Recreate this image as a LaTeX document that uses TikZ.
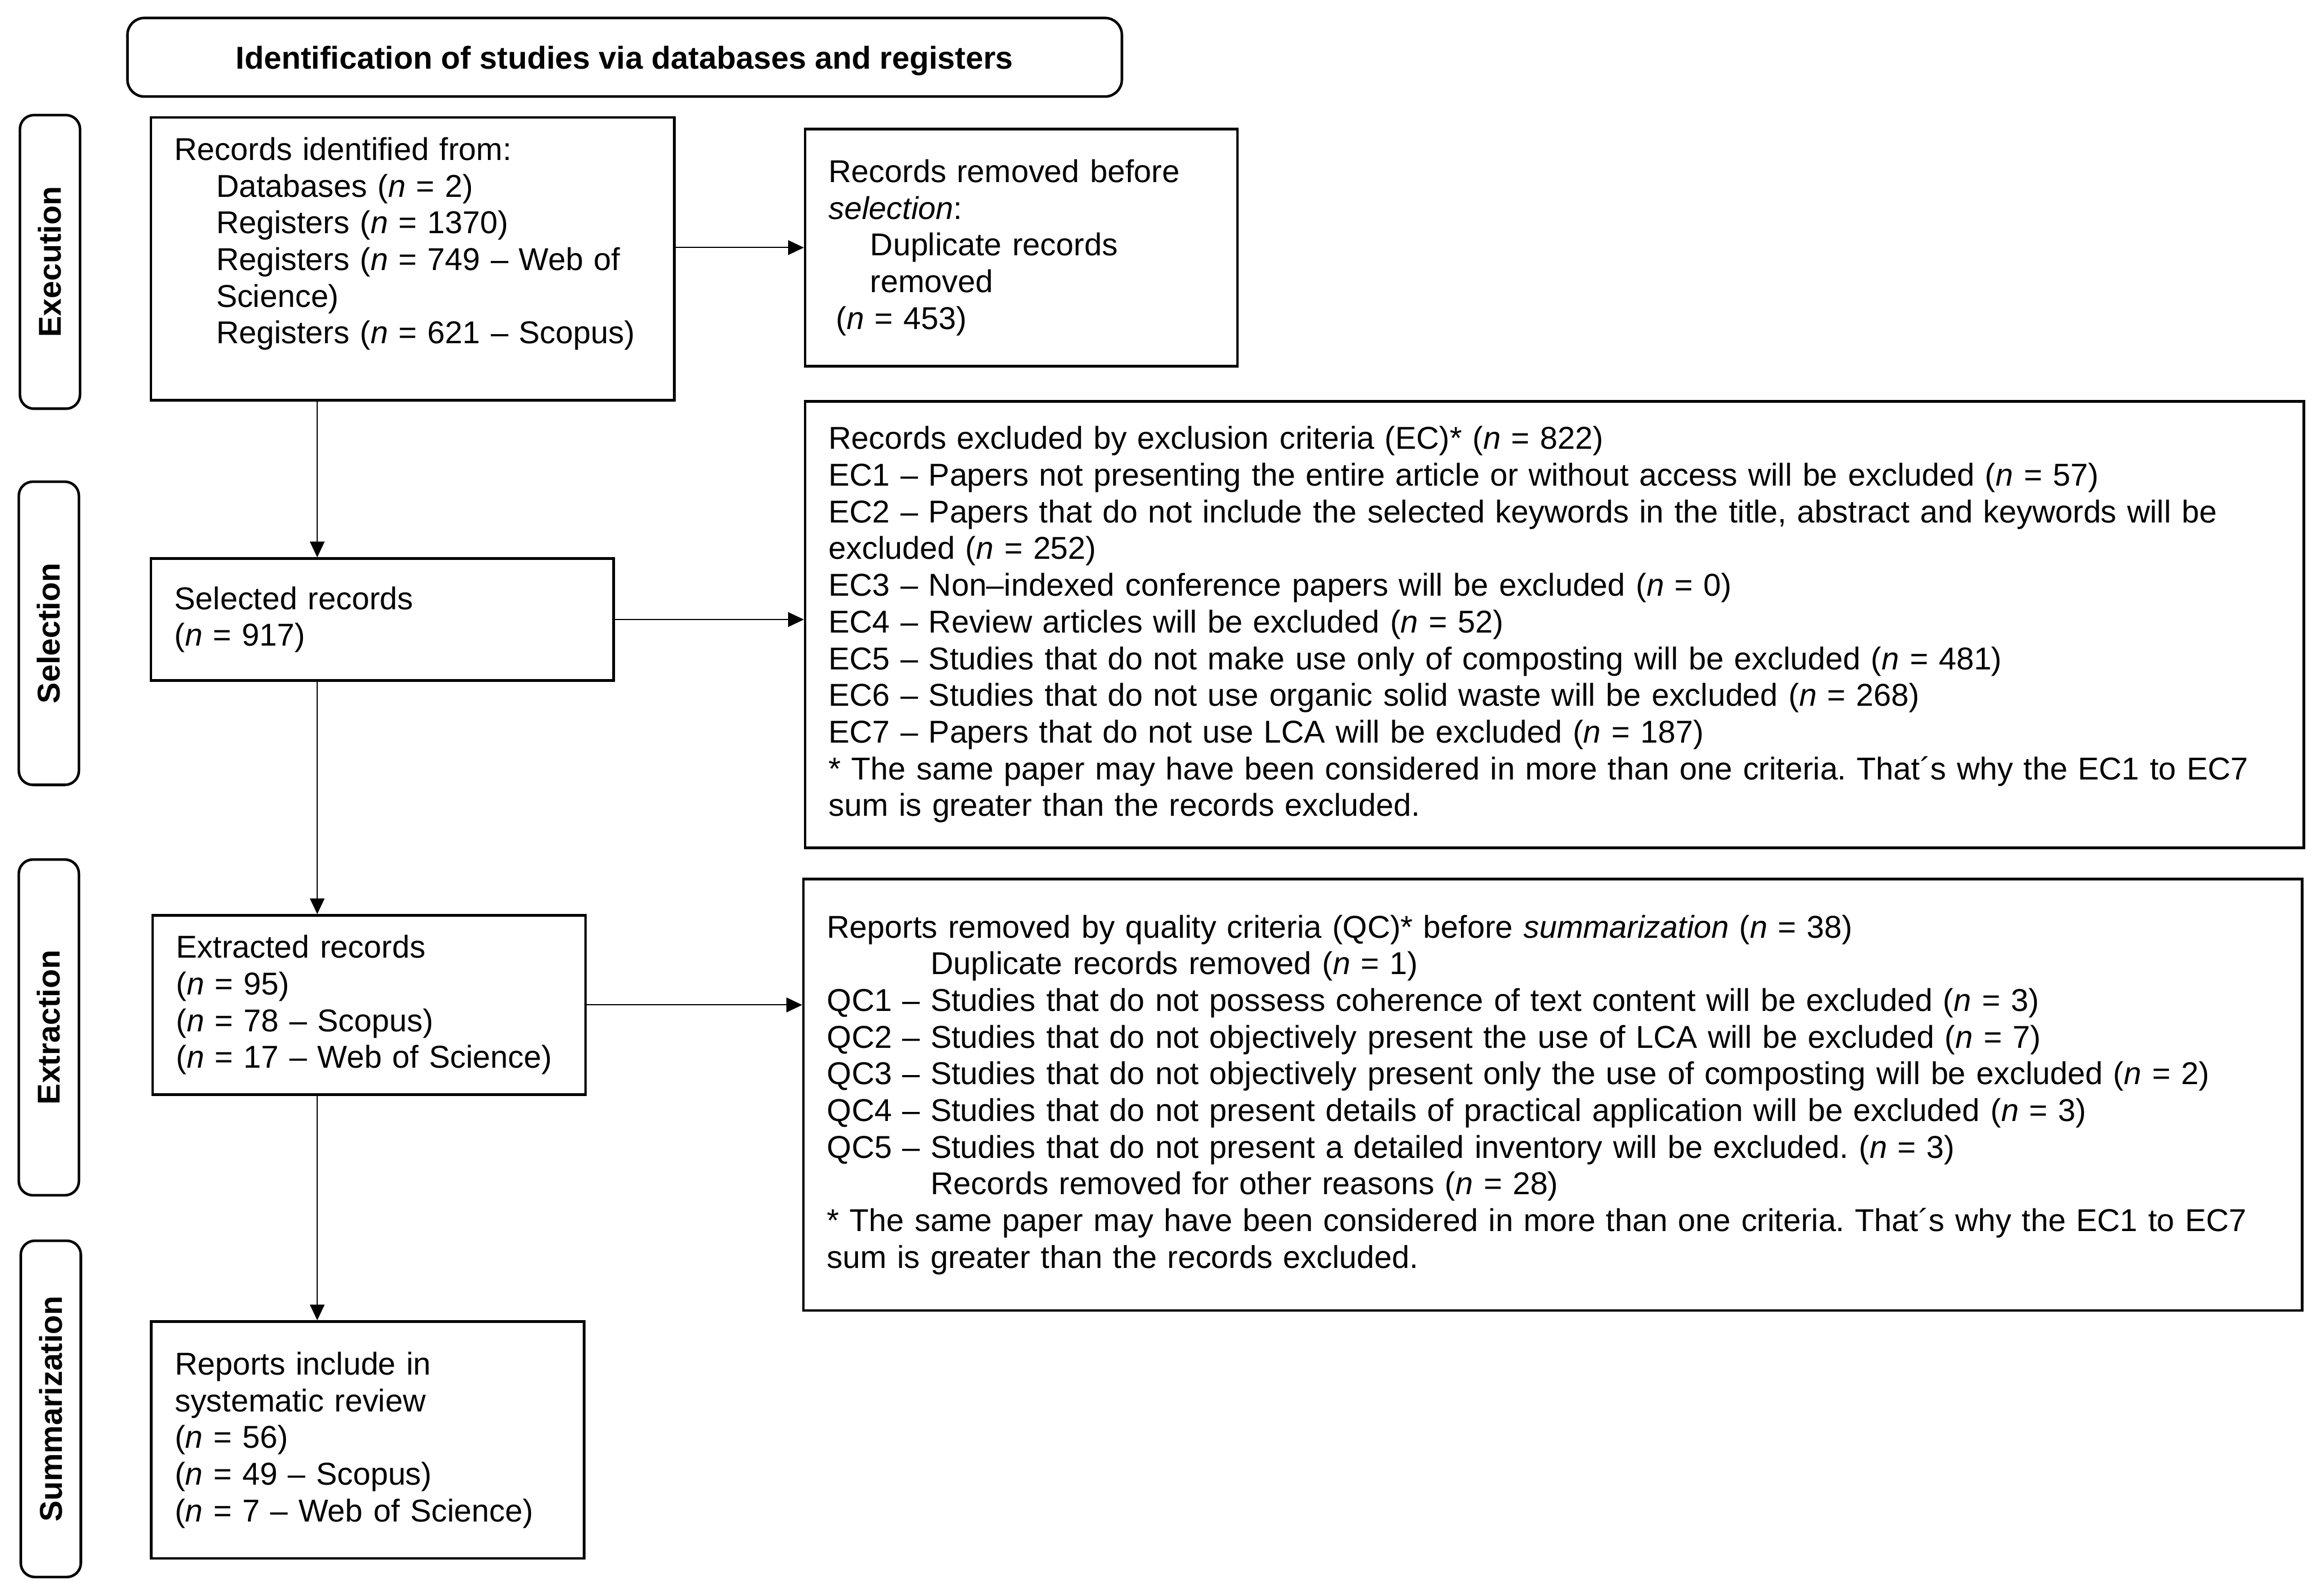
\documentclass[tikz,border=0pt]{standalone}
\usepackage{fontspec}
\setmainfont{Liberation Sans}
\usetikzlibrary{arrows.meta, positioning, calc}
\frenchspacing

\begin{document}
\begin{tikzpicture}[x=1cm, y=1cm, font=\fontsize{16}{18.6}\selectfont,
    box/.style={draw, line width=1.3pt, rectangle, align=left, inner xsep=0.42cm, inner ysep=0pt},
    stage/.style={draw, line width=1.3pt, rounded corners=0.25cm, inner sep=0pt, font=\fontsize{16}{18.6}\selectfont\bfseries},
    flow/.style={-{Triangle[length=0.28cm, width=0.26cm]}, line width=0.6pt}]
    \useasboundingbox (0,0) rectangle (41.39,-28.37);
    % header and stage labels
    \node[stage, rounded corners=0.3cm, text depth=0pt, minimum width=17.71cm, minimum height=1.40cm] (hdr) at (11.125,-1.02) {Identification of studies via databases and registers};
    \foreach \nm/\x/\y/\len/\lab in {exe/0.89/-4.665/5.23/Execution, slc/0.87/-11.28/5.40/Selection, xtr/0.87/-18.30/5.98/Extraction, smr/0.905/-25.095/5.99/Summarization} {
        \node[stage, rotate=90, minimum width=\len cm, minimum height=1.07cm] (\nm) at (\x,\y) {\lab};
    }
    % left column
    \node[box, text width=8.48cm, minimum height=5.04cm] (rec) at (7.35,-4.61) {Records identified from:\\
        \hspace*{0.74cm}Databases (\textit{n} = 2)\\
        \hspace*{0.74cm}Registers (\textit{n} = 1370)\\
        \hspace*{0.74cm}Registers (\textit{n} = 749 – Web of\\
        \hspace*{0.74cm}Science)\\
        \hspace*{0.74cm}Registers (\textit{n} = 621 – Scopus)\\
        \mbox{}};
    \node[box, text width=7.40cm, minimum height=2.17cm] (sel) at (6.81,-11.035) {Selected records\\(\textit{n} = 917)};
    \node[box, text width=6.87cm, minimum height=3.19cm] (ext) at (6.575,-17.90) {Extracted records\\(\textit{n} = 95)\\(\textit{n} = 78 – Scopus)\\(\textit{n} = 17 – Web of Science)};
    \node[box, text width=6.87cm, minimum height=4.22cm] (rep) at (6.55,-25.65) {Reports include in\\systematic review\\(\textit{n} = 56)\\(\textit{n} = 49 – Scopus)\\(\textit{n} = 7 – Web of Science)};
    % right column
    \node[box, text width=6.86cm, minimum height=4.22cm] (rem) at (18.19,-4.41) {Records removed before\\\textit{selection}:\\
        \hspace*{0.74cm}Duplicate records\\
        \hspace*{0.74cm}removed\\
        \hspace*{0.13cm}(\textit{n} = 453)};
    \node[box, text width=25.85cm, minimum height=7.95cm] (ec) at (27.685,-11.125) {Records excluded by exclusion criteria (EC)* (\textit{n} = 822)\\
        EC1 – Papers not presenting the entire article or without access will be excluded (\textit{n} = 57)\\
        EC2 – Papers that do not include the selected keywords in the title, abstract and keywords will be\\
        excluded (\textit{n} = 252)\\
        EC3 – Non–indexed conference papers will be excluded (\textit{n} = 0)\\
        EC4 – Review articles will be excluded (\textit{n} = 52)\\
        EC5 – Studies that do not make use only of composting will be excluded (\textit{n} = 481)\\
        EC6 – Studies that do not use organic solid waste will be excluded (\textit{n} = 268)\\
        EC7 – Papers that do not use LCA will be excluded (\textit{n} = 187)\\
        {*} The same paper may have been considered in more than one criteria. That´s why the EC1 to EC7\\
        sum is greater than the records excluded.};
    \node[box, text width=25.85cm, minimum height=7.68cm] (qc) at (27.655,-19.50) {Reports removed by quality criteria (QC)* before \textit{summarization} (\textit{n} = 38)\\
        \hspace*{1.85cm}Duplicate records removed (\textit{n} = 1)\\
        QC1 – Studies that do not possess coherence of text content will be excluded (\textit{n} = 3)\\
        QC2 – Studies that do not objectively present the use of LCA will be excluded (\textit{n} = 7)\\
        QC3 – Studies that do not objectively present only the use of composting will be excluded (\textit{n} = 2)\\
        QC4 – Studies that do not present details of practical application will be excluded (\textit{n} = 3)\\
        QC5 – Studies that do not present a detailed inventory will be excluded. (\textit{n} = 3)\\
        \hspace*{1.85cm}Records removed for other reasons (\textit{n} = 28)\\
        {*} The same paper may have been considered in more than one criteria. That´s why the EC1 to EC7\\
        sum is greater than the records excluded.};
    % connectors
    \coordinate (spine) at (5.65,0);
    \foreach \a/\b in {rec/sel, sel/ext, ext/rep} {
        \draw[flow] (\a.south -| spine) -- (\b.north -| spine);
    }
    \draw[flow] (rem.west -| rec.east) -- (rem.west);
    \draw[flow] (sel.east) -- (sel.east -| ec.west);
    \draw[flow] (ext.east) -- (ext.east -| qc.west);
\end{tikzpicture}
\end{document}
